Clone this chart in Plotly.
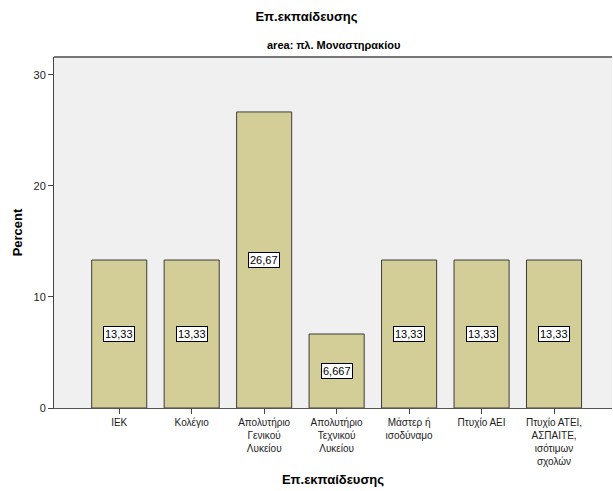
import plotly.graph_objects as go

categories = ["ΙΕΚ", "Κολέγιο", "Απολυτήριο<br>Γενικού<br>Λυκείου", "Απολυτήριο<br>Τεχνικού<br>Λυκείου",
              "Μάστερ ή<br>ισοδύναμο", "Πτυχίο ΑΕΙ", "Πτυχίο ΑΤΕΙ,<br>ΑΣΠΑΙΤΕ,<br>ισότιμων<br>σχολών"]
percent = [13.33, 13.33, 26.67, 6.667, 13.33, 13.33, 13.33]
labels = ["13,33", "13,33", "26,67", "6,667", "13,33", "13,33", "13,33"]
y_ticks = [0, 10, 20, 30]

FONT = "Liberation Sans, Arial, sans-serif"

fig = go.Figure()
fig.add_trace(go.Bar(
    x=categories, y=percent,
    width=0.76,
    marker=dict(color="#d3ce97", line=dict(color="#3c3c3c", width=1)),
    hoverinfo="skip",
))

for c, v, t in zip(categories, percent, labels):
    fig.add_annotation(x=c, y=v / 2, text=t, showarrow=False,
                       font=dict(family=FONT, size=11, color="#000"),
                       bgcolor="white", bordercolor="#000", borderwidth=1, borderpad=1)

fig.add_annotation(text="<b>area: πλ. Μοναστηρακίου</b>", xref="paper", yref="paper",
                   x=0.5, xanchor="center", y=1.0, yanchor="bottom", yshift=4,
                   showarrow=False, font=dict(family=FONT, size=11, color="#000"))

fig.update_layout(
    width=613, height=491,
    margin=dict(l=54, r=1, t=57, b=83),
    paper_bgcolor="white", plot_bgcolor="#f0f0f0",
    showlegend=False,
    title=dict(text="<b>Επ.εκπαίδευσης</b>", x=0.5, xanchor="center", y=0.975, yanchor="top",
               font=dict(family=FONT, size=13, color="#000")),
    xaxis=dict(type="category", range=[-0.9, 6.8], showgrid=False, zeroline=False,
               ticks="outside", ticklen=5, tickcolor="#444", tickfont=dict(family=FONT, size=10, color="#222"),
               showline=True, linecolor="#555", linewidth=1, mirror=False,
               title=dict(text="<b>Επ.εκπαίδευσης</b>", font=dict(family=FONT, size=13, color="#000"), standoff=8)),
    yaxis=dict(range=[0, 31.62], tickvals=y_ticks, showgrid=False, zeroline=False,
               ticks="outside", ticklen=5, tickcolor="#444", tickfont=dict(family=FONT, size=11, color="#222"),
               showline=True, linecolor="#444", linewidth=1,
               title=dict(text="<b>Percent</b>", font=dict(family=FONT, size=13, color="#000"), standoff=7)),
    shapes=[dict(type="line", xref="paper", yref="paper", x0=0, x1=1, y0=1, y1=1,
                 line=dict(color="#777", width=2))],
)

fig.write_html("out.html", config={"displayModeBar": False},
               post_script="document.body.style.margin='0';")
